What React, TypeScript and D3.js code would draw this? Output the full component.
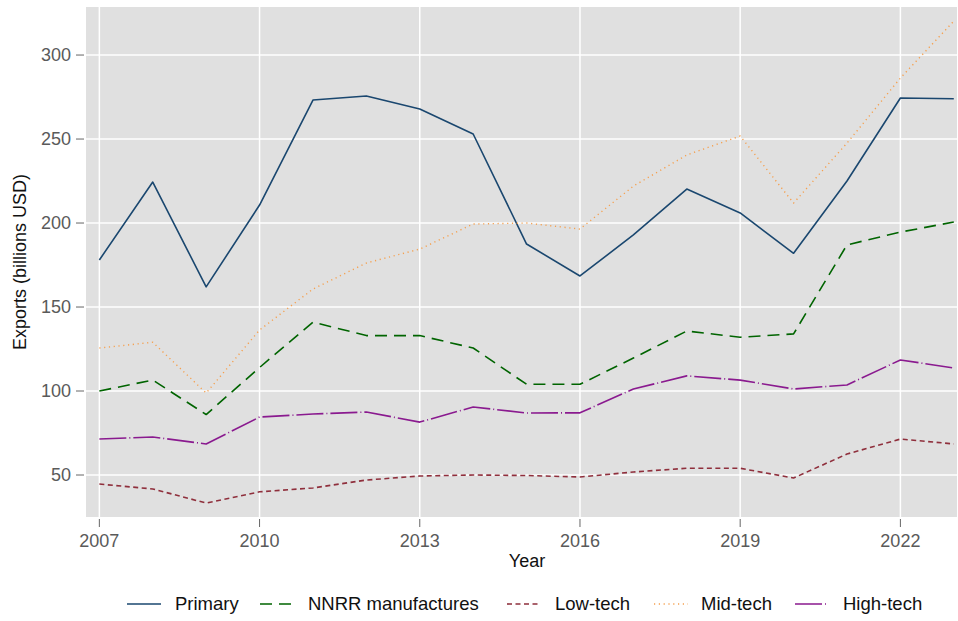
import React from "react";
import * as d3 from "d3";

const years = [2007, 2008, 2009, 2010, 2011, 2012, 2013, 2014, 2015, 2016, 2017, 2018, 2019, 2020, 2021, 2022, 2023];

const primary = [178, 224.4, 162, 210.7, 273.2, 275.6, 267.9, 253, 187.5, 168.5, 192.9, 220.2, 206, 182, 225, 274.4, 274];
const nnrr = [100, 106.5, 86, 114, 141, 133, 133, 125.6, 104, 104, 119.6, 135.7, 132, 134, 187, 194.6, 200.6];
const lowTech = [44.6, 41.7, 33.3, 40, 42.3, 47, 49.4, 50, 49.7, 48.8, 51.8, 54, 54, 48.2, 62.5, 71.4, 68.5];
const midTech = [125.6, 129, 98.8, 136.3, 160.7, 176.2, 184.5, 199.4, 200, 196.4, 222, 240.5, 251.8, 211.9, 247.6, 286.3, 320.2];
const highTech = [71.4, 72.6, 68.5, 84.5, 86.3, 87.5, 81.5, 90.5, 86.9, 87, 101.2, 109, 106.5, 101.2, 103.6, 118.5, 113.7];

const xTicks = [2007, 2010, 2013, 2016, 2019, 2022];
const yTicks = [50, 100, 150, 200, 250, 300];

const seriesNames = ["Primary", "NNRR manufactures", "Low-tech", "Mid-tech", "High-tech"];

const series = [
  { name: seriesNames[0], values: primary, color: "#1a476f", dash: "", width: 1.6 },
  { name: seriesNames[1], values: nnrr, color: "#006400", dash: "12 7", width: 1.6 },
  { name: seriesNames[2], values: lowTech, color: "#8f2f3c", dash: "5 3.5", width: 1.6 },
  { name: seriesNames[3], values: midTech, color: "#f5a04f", dash: "1.2 3.6", width: 1.4 },
  { name: seriesNames[4], values: highTech, color: "#8a1a8f", dash: "27 3 1 3", width: 1.6 },
];

const W = 958;
const H = 621;
const plot = { left: 86, right: 957, top: 7, bottom: 517 };
const font = "'Liberation Sans', Arial, Helvetica, sans-serif";
const fs = 18;

export default function App() {
  const x = d3.scaleLinear().domain([2006.75, 2023.06]).range([plot.left, plot.right]);
  const y = d3.scaleLinear().domain([25, 328.6]).range([plot.bottom, plot.top]);

  const line = d3
    .line<number>()
    .x((_, i) => x(years[i]))
    .y((v) => y(v));

  const legendItems = [
    { lx: 127, tx: 175 },
    { lx: 260, tx: 308 },
    { lx: 507, tx: 555 },
    { lx: 654, tx: 701 },
    { lx: 795, tx: 843 },
  ];

  return (
    <svg
      width={W}
      height={H}
      style={{ position: "absolute", left: 0, top: 0, background: "#fff" }}
      fontFamily={font}
    >
      <defs>
        <clipPath id="plot-clip">
          <rect x={plot.left} y={plot.top} width={plot.right - plot.left} height={plot.bottom - plot.top} />
        </clipPath>
      </defs>
      <rect x={0} y={0} width={W} height={H} fill="#fff" />
      <rect
        x={plot.left}
        y={plot.top}
        width={plot.right - plot.left}
        height={plot.bottom - plot.top}
        fill="#e0e0e0"
      />
      {/* grid */}
      {yTicks.map((t) => (
        <line key={"gy" + t} x1={plot.left} x2={plot.right} y1={y(t)} y2={y(t)} stroke="#fff" strokeWidth={1.5} />
      ))}
      {xTicks.map((t) => (
        <line key={"gx" + t} x1={x(t)} x2={x(t)} y1={plot.top} y2={plot.bottom} stroke="#fff" strokeWidth={1.5} />
      ))}
      {/* series */}
      <g clipPath="url(#plot-clip)">
        {series.map((s) => (
          <path
            key={s.name}
            d={line(s.values) || ""}
            fill="none"
            stroke={s.color}
            strokeWidth={s.width}
            strokeDasharray={s.dash || undefined}
            strokeLinejoin="round"
          />
        ))}
      </g>
      {/* y axis */}
      {yTicks.map((t) => (
        <g key={"ty" + t}>
          <line x1={76} x2={84} y1={y(t)} y2={y(t)} stroke="#666" strokeWidth={1} />
          <text x={71} y={y(t)} dy="0.35em" textAnchor="end" fontSize={fs} fill="#5a5a5a">
            {t}
          </text>
        </g>
      ))}
      {/* x axis */}
      {xTicks.map((t) => (
        <g key={"tx" + t}>
          <line x1={x(t)} x2={x(t)} y1={519} y2={527} stroke="#666" strokeWidth={1} />
          <text x={x(t)} y={547} textAnchor="middle" fontSize={fs} fill="#5a5a5a">
            {t}
          </text>
        </g>
      ))}
      <text x={527} y={567} textAnchor="middle" fontSize={fs} fill="#111">
        Year
      </text>
      <text
        transform={`translate(26, ${(plot.top + plot.bottom) / 2}) rotate(-90)`}
        textAnchor="middle"
        fontSize={fs}
        fill="#111"
      >
        Exports (billions USD)
      </text>
      {/* legend */}
      {series.map((s, i) => (
        <g key={"lg" + s.name}>
          <line
            x1={legendItems[i].lx}
            x2={legendItems[i].lx + 34}
            y1={604}
            y2={604}
            stroke={s.color}
            strokeWidth={s.width}
            strokeDasharray={s.dash || undefined}
          />
          <text x={legendItems[i].tx} y={604} dy="0.35em" fontSize={18.5} fill="#111">
            {s.name}
          </text>
        </g>
      ))}
    </svg>
  );
}
